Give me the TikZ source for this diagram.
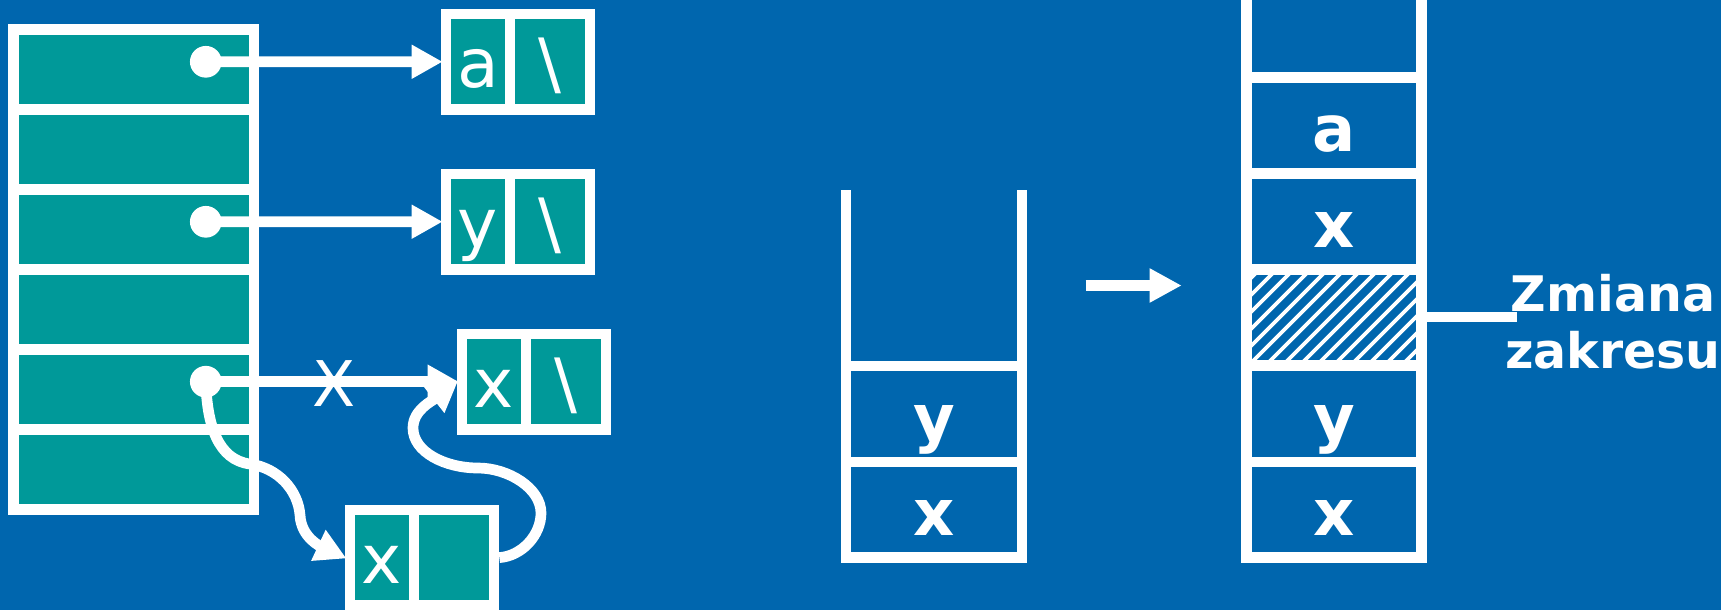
\documentclass[tikz,border=0pt]{standalone}
\usepackage{fontspec}
\setmainfont{DejaVu Sans}
\usetikzlibrary{arrows.meta}
\definecolor{bgblue}{RGB}{0,102,174}
\definecolor{tealc}{RGB}{0,153,153}
\begin{document}
\begin{tikzpicture}[x=1pt,y=-1pt,
  wl/.style={draw=white, line width=10.7pt},
  arr/.style={draw=white, line width=10.7pt, shorten >=-2pt, -{Triangle[length=31pt,width=32pt]}},
  cellbox/.style={draw=white, line width=10.7pt, fill=tealc, minimum height=95.5pt,
    inner sep=0pt, text=white, font=\fontsize{68}{80}\selectfont,
    text height=52pt, text depth=0pt},
  lcell/.style={cellbox, minimum width=64pt},
  rcell/.style={cellbox, minimum width=80pt},
  dotn/.style={circle, fill=white, minimum size=31.7pt, inner sep=0pt},
  stk/.style={font=\bfseries\fontsize{64}{76}\selectfont, text=white, inner sep=0pt, anchor=base},
  hatchl/.style={draw=white, line width=3.8pt}]
\fill[bgblue] (0,0) rectangle (1721,610);
\useasboundingbox (0,0) rectangle (1721,610);

% hash table
\fill[tealc] (13.8,29.7) rectangle (254,509.7);
\draw[wl] (13.8,29.7) rectangle (254,509.7);
\foreach \yy in {109.7,189.7,269.7,349.7,429.7}
  \draw[wl] (13.8,\yy) -- (254,\yy);

% list cells
\node[lcell] (a1) at (478,61.75) {a};
\node[rcell] (a2) at (550,61.75) {\textbackslash};
\node[lcell] (y1) at (478,221.7) {y};
\node[rcell] (y2) at (550,221.7) {\textbackslash};
\node[lcell] (x1) at (494,381.7) {x};
\node[rcell] (x2) at (566,381.7) {\textbackslash};
\node[lcell] (b1) at (382,557.6) {x};
\node[rcell] (b2) at (454,557.6) {};

% dots
\node[dotn] (d1) at (205.8,61.8) {};
\node[dotn] (d2) at (205.8,221.8) {};
\node[dotn] (d3) at (205.8,381.7) {};

% arrows
\draw[arr] (d1.center) -- (a1.west);
\draw[arr] (d2.center) -- (y1.west);
\draw[arr] (d3.center) -- (x1.west);
\node[font=\fontsize{63}{70}\selectfont, text=white, inner sep=0pt] (lx) at (334,384) {X};

\draw[arr] (d3.center) .. controls (207,425) and (218,460) .. (250,464)
  .. controls (278,468) and (298,490) .. (300,515)
  .. controls (301,538) and (322,547) .. (b1.west);
\draw[arr] (b2.east) .. controls (522,556) and (541,535) .. (541,513)
  .. controls (541,488) and (508,468) .. (478,468)
  .. controls (445,468) and (413,452) .. (413,428)
  .. controls (413,410) and (432,401) .. (x1.west);

% middle stack
\draw[wl, line join=miter] (846,190) -- (846,557.5) -- (1022,557.5) -- (1022,190);
\draw[wl] (846,366) -- (1022,366);
\draw[wl] (846,462) -- (1022,462);
\node[stk] (my) at (934,440) {y};
\node[stk] (mx) at (934,535.75) {x};

% transition arrow
\coordinate (t1) at (1085.7,285.5);
\coordinate (t2) at (1181.7,285.5);
\draw[arr, shorten >=0pt, -{Triangle[length=32pt,width=32pt]}] (t1) -- (t2);

% right stack hatch
\begin{scope}
  \clip (1251.7,275) rectangle (1416.3,360.2);
  \foreach \i in {0,...,17}
    \draw[hatchl] ({1150+\i*17},362) -- ++(90,-90);
\end{scope}
\draw[wl, line join=miter] (1246.2,-10) -- (1246.2,557.5) -- (1421.7,557.5) -- (1421.7,-10);
\foreach \yy in {77.8,173.8,269.5,365.5,462}
  \draw[wl] (1246.2,\yy) -- (1421.7,\yy);
\node[stk] (ra) at (1334,151.8) {a};
\node[stk] (rx1) at (1334,247.6) {x};
\node[stk] (ry) at (1334,440) {y};
\node[stk] (rx2) at (1334,535.75) {x};

% label
\coordinate (hr) at (1421.7,317);
\coordinate (zl) at (1517,317);
\draw[wl, line width=10pt] (hr) -- (zl);
\node[anchor=north, inner sep=0pt, align=center, text=white,
  font=\bfseries\fontsize{49}{56.6}\selectfont] (zm) at (1613,274.5) {Zmiana\\zakresu};
\end{tikzpicture}
\end{document}
